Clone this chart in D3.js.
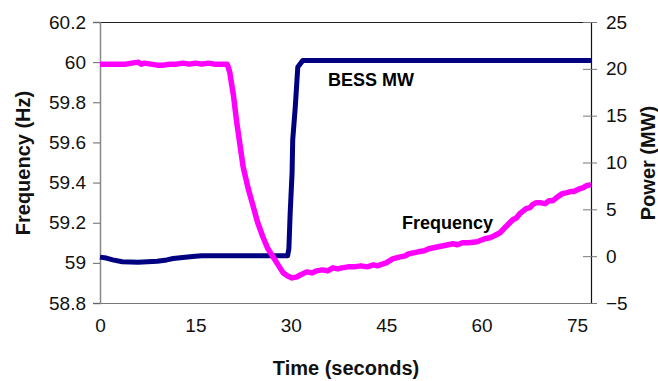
<!DOCTYPE html>
<html><head><meta charset="utf-8">
<script src="https://cdn.jsdelivr.net/npm/d3@7"></script>
<style>body{margin:0;background:#fff}svg{display:block;font-family:"Liberation Sans",Arial,sans-serif}</style>
</head><body><svg id="c" width="658" height="381"></svg>
<script>
const timeTicks = [0, 15, 30, 45, 60, 75];
const freqTicks = [58.8, 59, 59.2, 59.4, 59.6, 59.8, 60, 60.2];
const powerTicks = [-5, 0, 5, 10, 15, 20, 25];

const freqTime = [0,1,2,3,4,5,6,6.5,7,8,9,10,11,12,13,14,15,16,17,18,19,20,20.4,21,21.5,22,22.5,23.3,24.1,24.8,25.6,26.4,27.2,28,28.8,29.5,30.2,31,31.5,32.5,33.3,34,35,35.8,36.6,37.4,38,39,40,41,42,43,43.6,44.5,45,46,47.2,48,48.5,49.3,50,51,51.7,52.4,53.2,54,55.5,56.2,57,58,59.3,60.5,61.3,62,62.9,63.8,64.9,65.5,66,67,67.6,68,68.6,69.2,70,70.6,71.2,72,72.7,73.4,74,74.5,75.5,76,76.5,77.2];
const freqHz = [59.99,59.99,59.99,59.99,59.99,59.995,60.0,59.99,59.995,59.99,59.985,59.985,59.99,59.99,59.995,59.99,59.995,59.99,59.995,59.99,59.99,59.99,59.95,59.83,59.70,59.59,59.48,59.37,59.28,59.20,59.13,59.07,59.03,58.99,58.95,58.935,58.925,58.93,58.94,58.955,58.95,58.96,58.965,58.96,58.975,58.97,58.975,58.98,58.98,58.985,58.98,58.99,58.985,58.995,59.0,59.02,59.03,59.035,59.045,59.05,59.055,59.06,59.07,59.075,59.08,59.085,59.095,59.09,59.1,59.1,59.105,59.12,59.125,59.135,59.15,59.18,59.215,59.225,59.245,59.27,59.275,59.29,59.3,59.30,59.295,59.31,59.31,59.33,59.345,59.35,59.355,59.355,59.37,59.375,59.385,59.39];

const bessTime = [0,1,2,3.5,6,9,10.5,11.5,13,15,16,20,25,29.5,29.7,29.9,30.2,30.3,30.7,31.1,31.9,35,77.2];
const bessMW = [-0.1,-0.2,-0.4,-0.6,-0.65,-0.55,-0.4,-0.25,-0.15,0,0.05,0.05,0.05,0.05,0.8,4.6,8.9,12.4,15.9,20.2,20.9,20.9,20.9];

const svg = d3.select("#c");
const L = 100, R = 591, T = 22, B = 303;
const x = d3.scaleLinear().domain([0, 77.2]).range([L, R]);
const yF = d3.scaleLinear().domain([58.8, 60.2]).range([B, T]);
const yP = d3.scaleLinear().domain([-5, 25]).range([B, T]);

// frame
svg.append("line").attr("x1", L).attr("x2", R).attr("y1", T+0.5).attr("y2", T+0.5).attr("stroke", "#222").attr("stroke-width", 1);
svg.append("line").attr("x1", L).attr("x2", R).attr("y1", B+0.5).attr("y2", B+0.5).attr("stroke", "#777").attr("stroke-width", 1.2);

// left axis
const gl = svg.append("g").attr("transform", `translate(${L},0)`)
  .call(d3.axisLeft(yF).tickValues(freqTicks).tickSize(7).tickPadding(7).tickFormat(d3.format("")));
gl.select(".domain").attr("stroke", "#888").attr("stroke-width", 1.5);
gl.selectAll(".tick line").attr("stroke", "#666");
gl.selectAll("text").attr("font-size", 19).attr("fill", "#111").attr("font-family", "Liberation Sans, Arial");

// right axis
const gr = svg.append("g").attr("transform", `translate(${R},0)`)
  .call(d3.axisRight(yP).tickValues(powerTicks).tickSize(6).tickPadding(9).tickFormat(d3.format("")));
gr.select(".domain").attr("stroke", "#111").attr("stroke-width", 1.2);
gr.selectAll(".tick line").attr("x1", -8).attr("stroke", "#777");
gr.selectAll("text").attr("font-size", 19).attr("fill", "#111").attr("font-family", "Liberation Sans, Arial");

// bottom axis labels
const gb = svg.append("g").attr("transform", `translate(0,${B})`)
  .call(d3.axisBottom(x).tickValues(timeTicks).tickSize(0).tickPadding(16).tickFormat(d3.format("")));
gb.select(".domain").remove();
gb.selectAll("text").attr("font-size", 19).attr("fill", "#111").attr("font-family", "Liberation Sans, Arial");

// titles
svg.append("text").attr("x", 346).attr("y", 375).attr("text-anchor", "middle")
  .attr("font-size", 20).attr("font-weight", "bold").attr("fill", "#111").text("Time (seconds)");
svg.append("text").attr("transform", "translate(30,163) rotate(-90)").attr("text-anchor", "middle")
  .attr("font-size", 20).attr("font-weight", "bold").attr("fill", "#111").text("Frequency (Hz)");
svg.append("text").attr("transform", "translate(655,163) rotate(-90)").attr("text-anchor", "middle")
  .attr("font-size", 20).attr("font-weight", "bold").attr("fill", "#111").text("Power (MW)");

// lines
const bess = bessTime.map((t, i) => [t, bessMW[i]]);
const freq = freqTime.map((t, i) => [t, freqHz[i]]);
svg.append("path").datum(bess).attr("fill", "none").attr("stroke", "#000080").attr("stroke-width", 5)
  .attr("stroke-linejoin", "round")
  .attr("d", d3.line().x(d => x(d[0])).y(d => yP(d[1])));
svg.append("path").datum(freq).attr("fill", "none").attr("stroke", "#FF00FF").attr("stroke-width", 5.5)
  .attr("stroke-linejoin", "round")
  .attr("d", d3.line().x(d => x(d[0])).y(d => yF(d[1])));

// series labels
svg.append("text").attr("x", 328).attr("y", 86).attr("font-size", 18).attr("font-weight", "bold").attr("fill", "#000").text("BESS MW");
svg.append("text").attr("x", 402).attr("y", 229).attr("font-size", 18).attr("font-weight", "bold").attr("fill", "#000").text("Frequency");
</script></body></html>
